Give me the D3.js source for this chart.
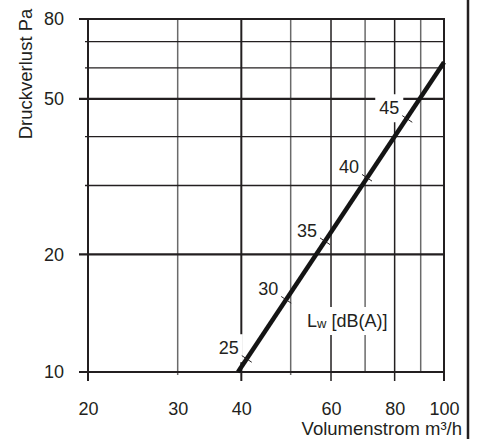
<!DOCTYPE html>
<html>
<head>
<meta charset="utf-8">
<script src="https://cdn.jsdelivr.net/npm/d3@7"></script>
<style>
  html, body { margin: 0; padding: 0; background: #fff; }
  svg { display: block; }
  text { font-family: "Liberation Sans", Arial, Helvetica, sans-serif; fill: #231f20; }
</style>
</head>
<body>
<svg id="chart" width="477" height="439"></svg>
<script>
// Volume flow grid (m³/h)
const flowGrid = [20, 30, 40, 50, 60, 70, 80, 90, 100];
const flowMajor = [20, 40, 60, 80, 100];
const flowLabels = [20, 30, 40, 60, 80, 100];
// Pressure loss grid (Pa)
const pressureGrid = [10, 20, 30, 40, 50, 60, 70, 80];
const pressureMajor = [10, 20, 50, 80];
const pressureLabels = [10, 20, 50, 80];
// Characteristic curve
const curveFlow = [39.4, 100];
const curvePressure = [10, 62];
// Sound power level marks along the curve
const soundLevels = [25, 30, 35, 40, 45];
const soundFlow = [41, 49, 58.4, 70.6, 84.7];
const soundPressure = [10.8, 15.3, 21.6, 31.4, 44.4];

const svg = d3.select("#chart");
const ink = "#231f20";

const plotL = 88, plotR = 444, plotT = 19, plotB = 372;
const x = d3.scaleLog().domain([20, 100]).range([plotL, plotR]);
const y = d3.scaleLog().domain([10, 80]).range([plotB, plotT]);

const grid = svg.append("g");

// vertical grid lines
grid.selectAll("line.v").data(flowGrid).join("line")
  .attr("class", "v")
  .attr("x1", d => x(d)).attr("x2", d => x(d))
  .attr("y1", plotT)
  .attr("y2", d => flowMajor.includes(d) ? plotB + 9 : (d === 30 || d === 50 ? plotB + 3 : plotB))
  .attr("stroke", d => flowMajor.includes(d) ? ink : "#6a6a6a")
  .attr("stroke-width", d => (d === 20 || d === 40 || d === 100) ? 2 : 1.5);

// horizontal grid lines
grid.selectAll("line.h").data(pressureGrid).join("line")
  .attr("class", "h")
  .attr("y1", d => y(d)).attr("y2", d => y(d))
  .attr("x1", d => pressureMajor.includes(d) ? plotL - 9 : plotL - 3)
  .attr("x2", plotR + 1)
  .attr("stroke", ink)
  .attr("stroke-width", d => pressureMajor.includes(d) ? 2.2 : 1.4);

// axes (labels only)
const yAxis = d3.axisLeft(y).tickValues(pressureLabels).tickFormat(d3.format("d"))
  .tickSize(0).tickPadding(24);
const gy = svg.append("g").attr("transform", `translate(${plotL},0)`).call(yAxis);
const xAxis = d3.axisBottom(x).tickValues(flowLabels).tickFormat(d3.format("d"))
  .tickSize(0).tickPadding(30);
const gx = svg.append("g").attr("transform", `translate(0,${plotB})`).call(xAxis);
[gx, gy].forEach(g => {
  g.select(".domain").remove();
  g.selectAll("text").attr("font-size", 18).attr("fill", ink)
    .attr("font-family", '"Liberation Sans", Arial, sans-serif');
});

// axis titles
svg.append("text")
  .attr("transform", `translate(32,74) rotate(-90)`)
  .attr("text-anchor", "middle")
  .attr("font-size", 18.5)
  .text("Druckverlust Pa");

svg.append("text")
  .attr("x", 462).attr("y", 435)
  .attr("text-anchor", "end")
  .attr("font-size", 18.5)
  .text("Volumenstrom m³/h");

// white-backed annotation helper
function boxed(g, pad) {
  const b = g.select("text").node().getBBox();
  g.insert("rect", "text")
    .attr("x", b.x - pad).attr("y", b.y - pad)
    .attr("width", b.width + 2 * pad).attr("height", b.height + 2 * pad)
    .attr("fill", "#fff");
}

// level labels
const marks = soundLevels.map((lv, i) => ({ lv, v: soundFlow[i], p: soundPressure[i] }));
marks.forEach(m => {
  const g = svg.append("g");
  g.append("text")
    .attr("x", x(m.v) - 18).attr("y", y(m.p) - 11)
    .attr("dy", "0.35em")
    .attr("text-anchor", "middle")
    .attr("font-size", 18)
    .text(m.lv);
  boxed(g, 4);
});

// legend note
const lg = svg.append("g");
const lt = lg.append("text").attr("x", 307).attr("y", 327).attr("font-size", 18);
lt.append("tspan").text("L");
lt.append("tspan").attr("font-size", 13).attr("dy", 1).text("w");
lt.append("tspan").attr("dy", -1).text(" [dB(A)]");
boxed(lg, 4);

// characteristic curve
const curve = curveFlow.map((v, i) => [x(v), y(curvePressure[i])]);
svg.append("path")
  .attr("d", d3.line()(curve))
  .attr("fill", "none")
  .attr("stroke", "#141414")
  .attr("stroke-width", 4.5);

// tick marks across the curve
const ddx = curve[1][0] - curve[0][0], ddy = curve[1][1] - curve[0][1];
const len = Math.hypot(ddx, ddy);
const nx = -ddy / len, ny = ddx / len;
svg.selectAll("line.mark").data(marks).join("line")
  .attr("class", "mark")
  .attr("x1", d => x(d.v) - nx * 6).attr("y1", d => y(d.p) - ny * 6)
  .attr("x2", d => x(d.v) + nx * 6).attr("y2", d => y(d.p) + ny * 6)
  .attr("stroke", ink).attr("stroke-width", 1);

// page frame rule
svg.append("line")
  .attr("x1", 468).attr("x2", 468).attr("y1", 0).attr("y2", 439)
  .attr("stroke", ink).attr("stroke-width", 2.5);
</script>
</body>
</html>
